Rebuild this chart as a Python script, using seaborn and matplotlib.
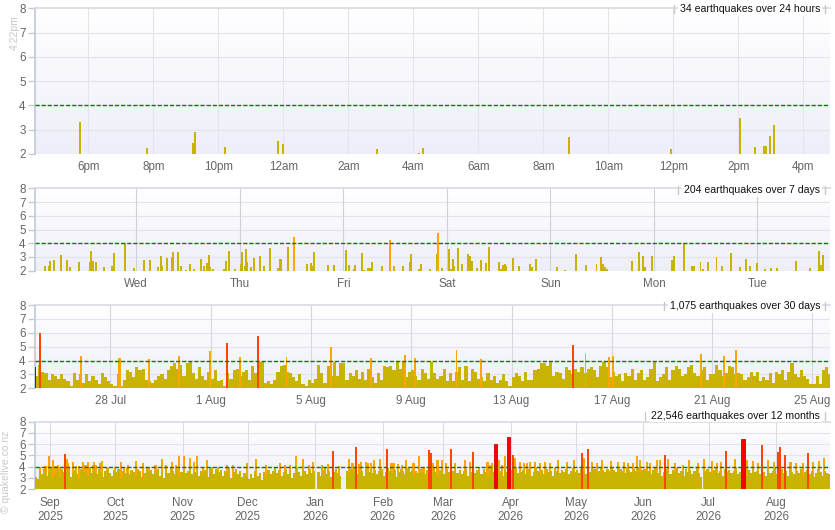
import numpy as np
import pandas as pd
import matplotlib
matplotlib.use("Agg")
import matplotlib.pyplot as plt
import matplotlib.dates as mdates
from matplotlib.colors import LinearSegmentedColormap
from matplotlib.lines import Line2D
from matplotlib.transforms import IdentityTransform
import seaborn as sns

# ---------------- data ----------------
# last 24 hours
day_times = ['2026-08-24 17:45', '2026-08-24 19:48', '2026-08-24 21:14', '2026-08-24 21:17',
             '2026-08-24 22:12', '2026-08-24 23:50', '2026-08-24 23:59', '2026-08-25 02:53',
             '2026-08-25 04:11', '2026-08-25 04:17', '2026-08-25 08:47', '2026-08-25 11:55',
             '2026-08-25 14:03', '2026-08-25 14:30', '2026-08-25 14:47', '2026-08-25 14:51',
             '2026-08-25 14:58', '2026-08-25 15:06']
day_mags = [3.3, 2.25, 2.45, 2.9, 2.3, 2.55, 2.4, 2.2, 2.05, 2.25, 2.7, 2.2,
            3.5, 2.3, 2.35, 2.35, 2.75, 3.2]

# last 7 days, hours after 2026-08-18 00:00
week_hours = [2.8, 3.8, 4.0, 4.9, 6.6, 7.9, 8.6, 10.7, 13.3, 13.5,
              14.0, 14.7, 16.5, 18.4, 18.8, 21.3, 23.5, 25.8, 27.2, 29.0,
              29.7, 30.0, 31.1, 32.3, 32.5, 33.7, 34.3, 35.5, 36.4, 37.4,
              39.0, 39.7, 40.4, 40.9, 41.2, 41.8, 44.3, 44.8, 45.5, 46.9,
              48.3, 48.5, 49.2, 49.4, 49.7, 50.6, 51.3, 52.7, 53.6, 55.0,
              56.8, 57.3, 57.5, 59.2, 60.5, 63.6, 64.5, 64.9, 65.2, 68.4,
              69.8, 72.6, 73.3, 74.4, 74.7, 76.3, 76.8, 77.7, 78.2, 78.6,
              80.9, 82.8, 83.7, 85.8, 87.4, 87.7, 89.5,
              90.0, 92.0, 93.7, 93.9, 94.8, 96.5, 96.9, 97.4, 97.6, 98.5,
              99.5, 100.9, 101.3, 101.8, 102.9, 103.9, 105.0, 105.7, 108.0, 108.5,
              109.0, 109.4, 109.7, 111.3, 112.7, 115.2, 115.7, 116.6, 121.5, 123.3,
              125.9, 128.2, 130.7, 131.7, 132.1, 132.6, 133.1, 138.9, 140.5, 141.4,
              141.9, 143.5, 148.1, 148.6, 150.9, 151.1, 152.8, 153.2, 154.8, 155.3,
              156.5, 158.5, 159.7, 161.8, 163.9, 165.3, 166.2, 167.8, 169.7, 171.1,
              172.5, 176.9, 180.1, 182.2, 182.7, 183.1]
week_mags = [2.34, 2.34, 2.68, 2.78, 3.14, 2.78, 2.27, 2.6, 2.6, 3.43,
             2.7, 2.63, 2.27, 2.34, 3.29, 3.99, 2.17, 2.78, 2.78, 2.27,
             3.07, 2.34, 2.92, 3.0, 3.36, 3.36, 2.34, 2.05, 2.49, 2.12,
             2.85, 2.34, 2.56, 3.14, 2.27, 2.12, 2.12, 2.7, 3.43, 2.12,
             2.49, 3.36, 2.34, 3.58, 2.63, 2.27, 2.92, 3.07, 2.34, 3.65,
             2.19, 2.85, 2.85, 3.72, 4.45, 2.49, 2.56, 2.34, 3.36, 2.41,
             2.41, 3.5, 2.41, 2.12, 2.41, 3.29, 2.05, 2.19, 2.19, 2.63,
             2.34, 4.23, 2.34, 2.34, 2.63, 3.21, 2.12,
             2.49, 2.12, 3.21, 4.74, 2.19, 3.58, 2.12, 2.85, 2.34, 3.65,
             2.49, 3.21, 3.07, 2.7, 2.19, 2.78, 2.56, 3.72, 2.63, 2.12,
             2.41, 2.49, 2.34, 2.92, 2.34, 2.49, 2.27, 2.85, 2.27, 2.05,
             3.21, 2.41, 2.49, 3.0, 2.49, 2.27, 2.12, 2.7, 3.36, 3.07,
             2.27, 3.07, 2.78, 3.07, 3.94, 2.27, 2.34, 2.34, 2.63, 2.12,
             2.63, 3.0, 2.34, 3.29, 2.27, 2.85, 2.34, 2.56, 2.12, 2.19,
             2.19, 2.7, 2.19, 3.43, 2.41, 3.14]

# last 30 days: top of the yellow band per 3-hour slot from 2026-07-25 00:00
month_slots = [2.9, 3.7, 3.2, 3.1, 2.6, 3.0, 2.9, 2.7,
               3.0, 2.7, 2.5, 2.2, 3.1, 2.6, 3.0, 2.4,
               3.0, 2.5, 2.9, 2.6, 2.3, 3.1, 2.8, 2.5,
               2.3, 2.2, 3.0, 2.2, 2.6, 3.3, 3.2, 2.8,
               3.5, 3.3, 3.4, 2.6, 2.5, 2.4, 2.6, 2.9,
               3.0, 2.7, 3.3, 3.6, 3.8, 3.4, 3.7, 2.9,
               3.8, 3.9, 3.1, 2.7, 3.5, 2.9, 2.6, 3.2,
               2.7, 3.3, 2.5, 2.6, 2.2, 3.1, 2.7, 3.3,
               3.4, 2.9, 3.2, 3.3, 2.6, 3.6, 3.1, 3.9,
               3.9, 2.4, 2.5, 2.3, 2.6, 3.2, 3.6, 3.7,
               3.2, 3.1, 2.8, 2.5, 3.0, 2.3, 2.2, 2.6,
               2.4, 2.7, 3.7, 3.1, 2.4, 3.6, 2.9, 3.9,
               2.9, 3.8, 3.8, 2.6, 3.1, 2.9, 3.3, 2.7,
               3.2, 2.6, 3.4, 2.8, 2.4, 3.1, 2.6, 3.6,
               3.5, 3.6, 3.3, 3.9, 3.4, 3.9, 2.8, 3.2,
               3.3, 2.9, 2.6, 3.4, 3.1, 2.7, 3.9, 3.1,
               2.7, 2.9, 3.4, 2.5, 3.1, 2.5, 3.2, 3.5,
               2.6, 3.6, 2.5, 3.4, 3.2, 2.7, 2.8, 2.5,
               3.1, 2.6, 2.9, 2.4, 2.6, 3.0, 2.5, 2.2,
               2.8, 3.1, 2.9, 2.5, 3.2, 2.6, 2.6, 3.3,
               3.4, 3.8, 3.8, 3.6, 3.9, 2.9, 3.2, 3.1,
               2.7, 3.5, 3.3, 3.0, 3.4, 3.2, 3.5, 3.1,
               3.4, 3.5, 3.3, 2.8, 3.6, 3.9, 3.5, 2.8,
               3.2, 2.9, 3.0, 2.5, 3.1, 2.9, 3.4, 2.6,
               3.1, 3.3, 2.6, 2.8, 3.4, 3.9, 2.5, 2.8,
               3.0, 3.5, 2.6, 3.3, 3.6, 3.4, 2.9, 3.0,
               3.5, 3.7, 3.1, 2.9, 3.3, 3.5, 2.6, 3.0,
               3.0, 3.7, 3.3, 2.9, 3.1, 3.6, 3.5, 3.0,
               3.1, 3.0, 2.6, 2.8, 3.2, 2.9, 3.2, 2.5,
               2.8, 2.6, 3.1, 2.4, 3.2, 3.0, 3.3, 2.6,
               3.2, 3.8, 3.0, 2.8, 3.3, 2.9, 2.7, 2.3,
               2.3, 2.9, 2.3, 3.3, 3.5, 3.0]
# bigger quakes poking above the band, days after 2026-07-25 00:00
month_peak_days = [0.2, 1.82, 3.36, 3.40, 4.53, 5.74, 6.98, 7.65, 8.16, 8.89,
                   10.03, 11.80, 13.40, 14.75, 15.15, 16.81, 17.77, 21.44, 21.95, 22.88,
                   23.04, 26.55, 27.46, 27.94]
month_peak_mags = [5.96, 4.33, 4.2, 4.16, 4.1, 4.33, 4.69, 5.24, 4.28, 5.77,
                   4.28, 4.98, 4.2, 4.4, 4.2, 4.76, 4.11, 5.12, 4.47, 4.26,
                   4.33, 4.47, 4.33, 4.76]

# last 12 months: top of the yellow band per day from 2025-08-25 (nan = no data)
nan = np.nan
year_days = [3.1, 2.9, 3.6, 3.3, 3.8, 3.2, 3.5, 3.9, 3.0, 3.4, 3.7, 3.2, 3.8, 3.5,
             3.6, 3.9, 3.1, 3.4, 3.7, 3.3, 3.0, 3.8, 3.5, 3.6, 3.2, 3.9, 3.4, 3.7,
             3.3, 3.8, 3.5, 3.1, 3.6, 3.9, 3.4, 3.2, 3.7, 3.5, 3.8, 3.0, 3.6, 3.4,
             3.9, 3.3, 3.7, 3.5, 3.2, 3.8, 3.6, 3.1, 3.4, 3.9, 3.5, 3.7, 3.3, 3.6,
             3.8, 3.2, 3.5, 3.0, 3.7, 3.4, 3.9, 3.6, 3.3, 3.8, 3.1, 3.5, 3.7, 3.4,
             3.6, 3.9, 3.3, 3.5, 3.8, 3.2, 3.6, 3.4, 3.7, 3.1, 3.9, 3.5, 3.3, 3.8,
             3.5, 3.7, 3.2, 3.6, 3.4, 3.9, 3.0, 3.5, 3.8, 3.3, 3.6, 3.1, 3.4, 3.2,
             2.9, 3.3, 3.0, 3.6, 3.2, 3.4, 2.8, 3.5, 3.1, 3.7, 3.3, 3.6, 3.9, 3.4,
             3.7, 3.2, 3.5, 3.8, 3.3, 3.6, 3.0, 3.4, 3.9, 3.5, 3.2, 3.7, 3.6, 3.3,
             3.8, 3.4, 3.6, nan, 3.5, 3.2, 3.7, 3.9, 3.3, 3.6, 3.1, 3.5, 3.8, 3.4,
             3.2, nan, nan, 3.6, 3.4, 3.8, 3.5, 3.9, 3.3, 3.7, 3.6, 3.2, 3.8, 3.5,
             3.9, 3.4, 3.7, 3.3, 3.6, 3.8, 3.2, 3.5, 3.9, 3.6, 3.4, 3.7, 3.1, 3.5,
             3.8, 3.6, 3.3, 3.9, 3.5, 3.7, 3.2, 3.6, 3.4, 3.8, 3.5, 3.3, 3.7, 3.6,
             3.4, 3.9, 3.5, 3.2, 3.7, 3.6, 3.3, 3.8, 3.5, 3.1, 3.6, 3.9, 3.4, 3.7,
             3.3, 3.6, 3.8, 3.2, 3.5, 3.9, 3.4, 3.7, 3.6, 3.3, 3.8, 3.5, 3.2, 3.6,
             3.9, 3.5, 3.7, 3.4, 3.6, 3.2, 3.8, 3.5, 3.3, 3.7, 3.6, 3.9, 3.4, 3.5,
             3.7, 3.3, 3.6, 3.8, 3.2, 3.5, 3.9, 3.6, 3.4, 3.7, 3.3, 3.8, 3.5, 3.6,
             3.2, 3.9, 3.6, 3.4, 3.7, 3.5, 3.8, 3.3, 3.6, 3.9, 3.5, 3.7, 3.4, 3.8,
             3.6, 3.3, 3.9, 3.5, 3.7, 3.8, 3.4, 3.6, 3.9, 3.7, 3.5, 3.8, 3.6, 3.9,
             3.7, 3.5, 3.9, 3.8, 3.6, 3.4, 3.9, 3.7, 3.5, 3.8, 3.6, 3.9, 3.4, 3.7,
             3.8, 3.5, 3.6, 3.3, 3.7, 3.9, 3.4, 3.6, 3.2, 3.5, 3.8, 3.6, 3.3, 3.7,
             3.5, 3.9, 3.4, 3.6, 3.2, 3.8, 3.5, 3.7, 3.3, 3.6, 3.9, 3.4, 3.1, nan,
             3.6, 3.8, 3.5, 3.3, 3.7, 3.9, 3.4, 3.6, 3.2, 3.8, 3.5, 3.7, 3.4, 3.6,
             3.9, 3.3, 3.5, 3.8, 3.6, 3.2, 3.7, 3.4, 3.9, 3.5, 3.6, 3.3, 3.8, 3.5,
             3.2, 3.7, 3.4, 3.6, 3.9, 3.3, 3.5, 3.8, 3.4, 3.6, 3.2, 3.7, 3.5, 3.3,
             3.6, 3.4, 3.8, 3.2, 3.5, 3.7, 3.3, 3.6, 3.1, 3.4, 3.8, 3.5, 3.2, 3.6,
             3.4, 3.3]
# quakes of 4+ over the 12 months, days after 2025-08-25 00:00
year_peak_days = [2.4, 4.9, 6.5, 8.2, 9.0, 9.8, 10.7, 11.6, 13.9, 14.7,
                  15.4, 17.6, 19.1, 20.3, 22.0, 23.3, 24.5, 25.4, 26.6, 27.4,
                  28.3, 30.0, 31.1, 33.4, 36.9, 39.5, 41.2, 43.0, 46.6, 49.6,
                  52.5, 55.5, 58.5, 60.2, 63.3, 65.0, 66.3, 68.8, 71.4, 73.4,
                  74.8, 77.4, 79.1, 81.5, 84.3, 88.3, 91.3, 97.6, 101.6, 106.5,
                  112.8, 115.0, 117.4, 120.2, 123.5, 126.2, 128.1, 132.3, 135.0, 137.1,
                  137.3, 139.8, 144.7, 146.2, 147.8, 149.0, 150.1, 152.4, 153.3, 154.5,
                  156.1, 158.8, 162.2, 163.7, 165.0, 167.2, 168.8, 170.6, 172.3, 174.2,
                  176.6, 178.8, 181.5, 182.4, 183.0, 185.3, 187.3, 189.2, 191.5, 193.3,
                  197.9, 200.2, 201.4, 204.5, 208.3, 209.4, 210.2, 211.9, 213.7, 215.1,
                  216.3, 217.9, 219.9, 220.9, 223.2, 225.1, 226.3, 228.0, 230.1, 232.4,
                  234.7, 237.0, 240.6, 244.7, 247.9, 251.6, 252.4, 254.5, 256.3, 258.5,
                  260.8, 265.1, 268.2, 271.1, 273.1, 275.4, 277.1, 278.4, 281.5, 283.0,
                  286.1, 287.8, 289.9, 291.3, 294.7, 298.4, 300.8, 305.3, 307.9, 311.4,
                  313.7, 315.7, 317.8, 322.3, 325.7, 327.5, 330.6, 332.9, 334.4, 337.5,
                  340.2, 342.1, 343.0, 345.1, 347.7, 350.2, 353.6, 355.6, 358.2, 360.6,
                  362.9]
year_peak_mags = [4.0, 4.05, 4.9, 4.6, 4.05, 4.05, 4.1, 4.0, 5.1, 4.7,
                  4.35, 4.45, 4.05, 4.05, 4.45, 4.15, 4.45, 4.0, 4.15, 4.45,
                  4.15, 4.3, 4.5, 4.0, 4.0, 4.45, 4.0, 4.15, 4.5, 4.3,
                  4.0, 4.15, 4.65, 4.15, 4.45, 4.15, 4.95, 4.9, 4.8, 4.45,
                  4.95, 4.0, 4.6, 4.0, 4.0, 4.15, 4.15, 4.35, 4.7, 4.15,
                  4.35, 4.14, 4.15, 4.94, 4.64, 4.15, 4.44, 4.14, 4.23, 4.44,
                  5.39, 4.05, 4.67, 4.3, 5.74, 4.23, 4.41, 4.41, 4.29, 4.29,
                  4.58, 4.7, 5.56, 4.35, 4.3, 4.23, 4.15, 4.6, 4.0, 4.3,
                  4.95, 4.0, 5.45, 5.2, 4.3, 4.6, 4.6, 4.3, 5.55, 4.3,
                  4.6, 4.45, 5.3, 4.0, 4.45, 4.15, 4.3, 6.05, 4.6, 4.15,
                  4.9, 6.65, 5.05, 4.8, 4.45, 4.3, 4.3, 4.45, 4.45, 4.3,
                  4.45, 4.3, 4.6, 4.45, 4.6, 5.25, 4.8, 5.55, 4.45, 4.3,
                  4.6, 4.5, 4.45, 4.45, 4.3, 4.3, 4.9, 4.6, 4.45, 4.3,
                  4.6, 4.6, 5.05, 4.7, 4.3, 4.15, 4.6, 4.3, 4.7, 4.5,
                  4.3, 4.45, 5.4, 4.7, 6.45, 4.6, 4.5, 4.3, 5.9, 4.6,
                  4.45, 5.3, 5.7, 5.05, 4.45, 4.3, 4.3, 5.2, 4.45, 4.5,
                  4.8]

titles = ['34 earthquakes over 24 hours', '204 earthquakes over 7 days',
          '1,075 earthquakes over 30 days', '22,546 earthquakes over 12 months']
hour_labels = ['6pm', '8pm', '10pm', '12am', '2am', '4am', '6am', '8am', '10am', '12pm', '2pm', '4pm']
weekday_labels = ['Wed', 'Thu', 'Fri', 'Sat', 'Sun', 'Mon', 'Tue']
month30_labels = ['28 Jul', '1 Aug', '5 Aug', '9 Aug', '13 Aug', '17 Aug', '21 Aug', '25 Aug']
month_labels = ['Sep\n2025', 'Oct\n2025', 'Nov\n2025', 'Dec\n2025', 'Jan\n2026', 'Feb\n2026',
                'Mar\n2026', 'Apr\n2026', 'May\n2026', 'Jun\n2026', 'Jul\n2026', 'Aug\n2026']

YELLOW, ORANGE, RED_ORANGE, RED = '#c8b400', '#ffa500', '#ff4500', '#ff0000'
bg_cmap = LinearSegmentedColormap.from_list('bg', ['#eeeef9', '#ffffff'])


def mag_colors(mags):
    mags = np.asarray(mags, dtype=float)
    return np.select([mags >= 6, mags >= 5, mags >= 4], [RED, RED_ORANGE, ORANGE], default=YELLOW)


def num(stamps):
    return mdates.date2num(pd.to_datetime(stamps))


def style_panel(ax, xlim, ticks, labels, vgrid):
    grad = np.linspace(0, 1, 100).reshape(-1, 1)
    ax.imshow(grad, extent=[0, 1, 0, 1], transform=ax.transAxes, cmap=bg_cmap,
              aspect='auto', origin='lower', zorder=0)
    # the 4.0 threshold line sits on top of the bars
    ax.axhline(4, color='#008000', lw=1, ls=(0, (3, 1.4)), zorder=6)
    for v in range(3, 8):
        ax.axhline(v, color='#e3e3eb', lw=0.8, zorder=0.6)
    for t in num(ticks):
        ax.axvline(t, color=vgrid, lw=0.8, zorder=0.6)
    ax.set_xlim(num(xlim)[0], num(xlim)[1])
    ax.set_ylim(2, 8)
    ax.set_yticks(range(2, 9))
    ax.set_xticks(num(ticks))
    ax.set_xticklabels(labels)
    ax.grid(False)
    for side in ('right', 'bottom'):
        ax.spines[side].set_visible(False)
    ax.spines['left'].set_color('#c0ccd8')
    ax.spines['top'].set_color('#d8dce4')
    ax.tick_params(axis='y', length=5, width=1, color='#c0ccd8', labelcolor='#666666',
                   labelsize=8.4, pad=2, left=True)
    ax.tick_params(axis='x', length=0, labelcolor='#666666', labelsize=8.4, pad=5)


sns.set_theme(style='white')
plt.rcParams['font.family'] = ['Liberation Sans', 'DejaVu Sans']

W, H = 835, 530
fig = plt.figure(figsize=(W / 100, H / 100), dpi=100)
boxes = [(8.3, 154), (188.3, 270.7), (305, 388.3), (421.7, 489)]
axes = [fig.add_axes([35.3 / W, 1 - b / H, (830 - 35.3) / W, (b - t) / H]) for t, b in boxes]

# 24 hours
ax = axes[0]
ax.bar(num(day_times), np.array(day_mags) - 2, bottom=2, width=0.0026,
       color=mag_colors(day_mags), linewidth=0, zorder=3)
style_panel(ax, ['2026-08-24 16:22', '2026-08-25 16:49'],
            pd.date_range('2026-08-24 18:00', periods=12, freq='2h'), hour_labels, '#e4e4ec')

# 7 days
ax = axes[1]
week_x = num(pd.Timestamp('2026-08-18') + pd.to_timedelta(week_hours, unit='h'))
ax.bar(week_x, np.array(week_mags) - 2, bottom=2, width=0.018,
       color=mag_colors(week_mags), linewidth=0, zorder=3)
style_panel(ax, ['2026-08-18 00:36', '2026-08-25 16:49'],
            pd.date_range('2026-08-19', periods=7, freq='D'), weekday_labels, '#d0d0d8')

# 30 days
ax = axes[2]
month_start = pd.Timestamp('2026-07-25')
slot_x = num(month_start + pd.to_timedelta(np.arange(len(month_slots)) * 3, unit='h'))
ax.bar(slot_x, np.array(month_slots) - 2, bottom=2, width=0.125, align='edge',
       color=YELLOW, linewidth=0, antialiased=False, zorder=3)
peak_x = num(month_start + pd.to_timedelta(month_peak_days, unit='D'))
ax.bar(peak_x, np.array(month_peak_mags) - 2, bottom=2, width=0.07,
       color=mag_colors(month_peak_mags), linewidth=0, zorder=4)
ax.bar(num(['2026-07-25 00:20']), [1.55], bottom=2, width=0.05, color='#2222cc', linewidth=0, zorder=4)
style_panel(ax, ['2026-07-25 00:14', '2026-08-25 16:49'],
            pd.date_range('2026-07-28', periods=8, freq='4D'), month30_labels, '#d6d6dd')

# 12 months
ax = axes[3]
year_start = pd.Timestamp('2025-08-25')
yd_x = num(year_start + pd.to_timedelta(np.arange(len(year_days)), unit='D'))
pk = np.array(year_peak_mags)
pk_x = num(year_start + pd.to_timedelta(year_peak_days, unit='D'))
small = pk < 5
mid = (pk >= 5) & (pk < 6)
big = pk >= 6
ax.bar(pk_x[small], pk[small] - 2, bottom=2, width=1.0, color=ORANGE, linewidth=0, zorder=2.5)
ax.bar(yd_x, np.array(year_days) - 2, bottom=2, width=1.0, align='edge',
       color=YELLOW, linewidth=0, antialiased=False, zorder=3)
ax.bar(pk_x[mid], pk[mid] - 2, bottom=2, width=0.9, color=RED_ORANGE, linewidth=0, zorder=3.5)
ax.bar(pk_x[big], pk[big] - 2, bottom=2, width=1.7, color=RED, edgecolor='#d00000',
       linewidth=0.6, zorder=4)
style_panel(ax, ['2025-08-25 05:45', '2026-08-25 20:10'],
            pd.date_range('2025-09-01', periods=12, freq='MS'), month_labels, '#dcdce4')
ax.tick_params(axis='x', pad=6)
for lbl in ax.get_xticklabels():
    lbl.set_linespacing(1.15)

# panel captions in white boxes at the top right
title_y = [9.3, 190, 306, 415.7]
title_texts = []
for text, y in zip(titles, title_y):
    t = fig.text(820 / W, 1 - y / H, text, ha='right', va='center', fontsize=7.6,
                 color='#111111', zorder=10,
                 bbox=dict(facecolor='white', edgecolor='none', pad=1.2))
    title_texts.append(t)

fig.text(15 / W, 1 - 33 / H, '4:22pm', rotation=90, ha='center', va='center',
         fontsize=7.5, color='#c8c8c8')
fig.text(6 / W, 1 - 472 / H, '© quakelive.co.nz', rotation=90, ha='center', va='center',
         fontsize=7.5, color='#c8c8c8')

fig.canvas.draw()
renderer = fig.canvas.get_renderer()
for t in title_texts:
    bb = t.get_window_extent(renderer)
    cy = (bb.y0 + bb.y1) / 2
    for xp in (bb.x0 - 6, bb.x1 + 5):
        fig.add_artist(Line2D([xp, xp], [cy - 4, cy + 4], transform=IdentityTransform(),
                              color='#c8c8c8', lw=1))

fig.savefig('out.png', dpi=100)
